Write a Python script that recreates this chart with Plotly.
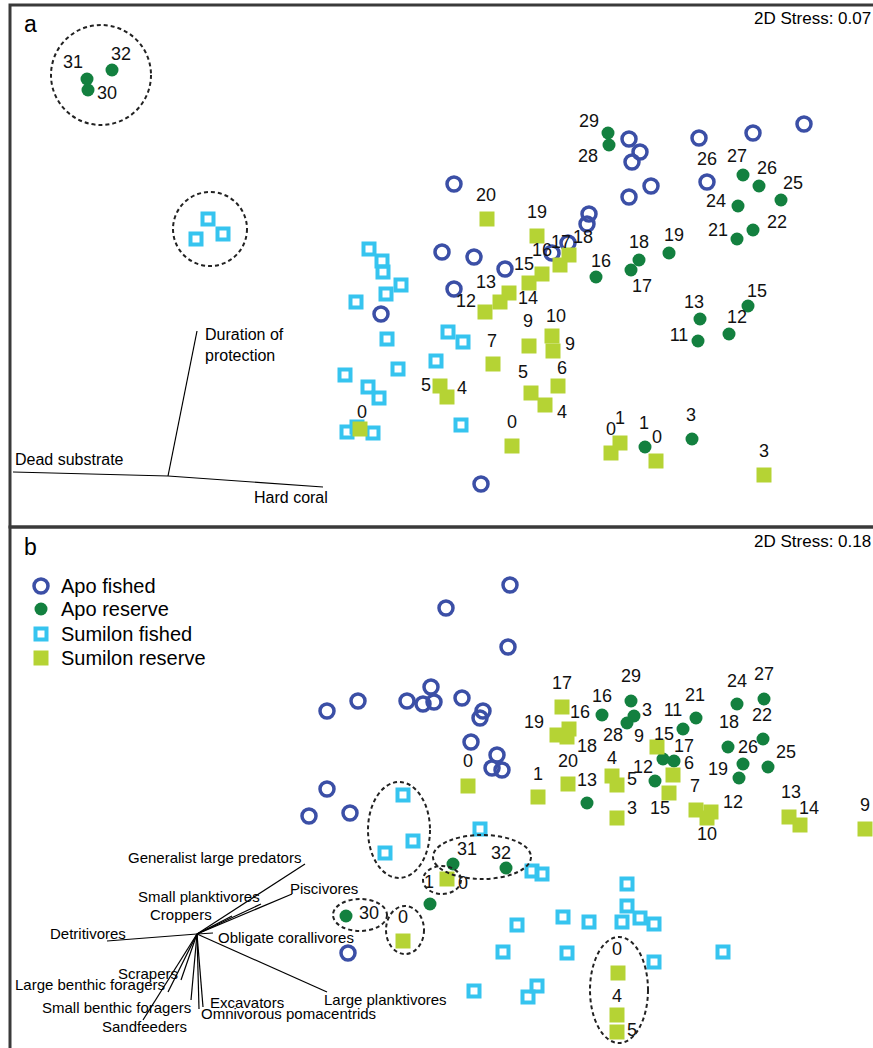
import plotly.graph_objects as go

FONT = "Liberation Sans, Arial, sans-serif"
APO_F = "#3b4fa6"
APO_R = "#13803f"
SUM_F = "#36c4ef"
SUM_R = "#b5d334"

# ---------------- Panel a : benthic NMDS (coordinates) ----------------
a_apo_fished_x = [454, 589, 587, 568, 552, 442, 474, 505, 454, 381, 629, 640, 632, 651, 629, 699, 753, 804, 707, 481]
a_apo_fished_y = [184, 214, 224, 243, 253, 252, 257, 269, 289, 314, 139, 152, 162, 186, 197, 138, 133, 124, 182, 484]

a_apo_reserve_x = [87, 88, 112, 608, 609, 743, 759, 781, 738, 753, 737, 669, 639, 631, 596, 748, 700, 729, 698, 645, 692]
a_apo_reserve_y = [79, 90, 70, 133, 145, 175, 186, 200, 206, 230, 239, 253, 260, 270, 277, 306, 319, 334, 341, 447, 439]

a_sum_fished_x = [208, 196, 223, 369, 382, 383, 401, 386, 356, 387, 448, 463, 436, 398, 345, 368, 379, 357, 347, 373, 461]
a_sum_fished_y = [219, 239, 234, 249, 261, 272, 285, 294, 302, 339, 332, 342, 361, 369, 375, 387, 398, 427, 432, 433, 425]

a_sum_reserve_x = [487, 537, 569, 560, 542, 529, 509, 500, 485, 529, 552, 553, 493, 440, 447, 531, 545, 558, 360, 512, 620, 611, 656, 764]
a_sum_reserve_y = [219, 236, 255, 265, 274, 283, 293, 302, 312, 346, 336, 351, 364, 386, 397, 393, 405, 386, 429, 446, 443, 453, 461, 475]

a_label_text = ["31", "32", "30", "29", "28", "26", "27", "26", "25", "24", "21", "22", "20", "19", "18", "17", "16",
                "15", "13", "14", "12", "18", "19", "16", "17", "13", "11", "15", "12", "9", "10", "9", "7", "5",
                "4", "5", "6", "4", "0", "0", "0", "1", "1", "0", "3", "3"]
a_label_x = [73, 121, 107, 589, 588, 707, 737, 767, 793, 716, 718, 777, 486, 537, 583, 561, 542,
             524, 486, 528, 466, 639, 674, 601, 642, 694, 679, 757, 737, 528, 556, 570, 492, 426,
             462, 523, 562, 562, 362, 512, 611, 620, 644, 657, 691, 764]
a_label_y = [63, 55, 94, 122, 157, 160, 157, 169, 184, 202, 231, 223, 196, 213, 238, 243, 251,
             265, 283, 299, 302, 243, 236, 262, 287, 303, 336, 292, 318, 322, 317, 345, 342, 386,
             389, 373, 369, 413, 413, 423, 430, 419, 424, 438, 416, 452]

a_clusters_cx = [101, 210]
a_clusters_cy = [75, 229]
a_clusters_rx = [50, 37]
a_clusters_ry = [50, 37]

a_vec_origin = (168, 476)
a_vec_end_x = [197, 13, 323]
a_vec_end_y = [331, 472, 487]
a_vec_names = ["Duration of<br>protection", "Dead substrate", "Hard coral"]
a_vec_lab_x = [203, 13, 330]
a_vec_lab_y = [345, 459, 497]
a_vec_anchor = ["left", "left", "right"]

# ---------------- Panel b : fish functional groups NMDS ----------------
b_apo_fished_x = [510, 446, 508, 327, 358, 407, 431, 423, 434, 462, 483, 480, 471, 497, 492, 502, 327, 309, 350, 348]
b_apo_fished_y = [585, 608, 647, 711, 701, 701, 687, 704, 702, 698, 711, 718, 742, 755, 768, 770, 789, 816, 813, 953]

b_apo_reserve_x = [602, 631, 634, 627, 683, 696, 663, 674, 655, 587, 728, 737, 764, 763, 743, 739, 768, 453, 506, 430, 346]
b_apo_reserve_y = [715, 701, 716, 723, 729, 718, 759, 761, 781, 803, 747, 704, 699, 739, 764, 778, 767, 864, 868, 904, 916]

b_sum_fished_x = [403, 413, 385, 480, 532, 542, 627, 627, 622, 640, 654, 517, 563, 589, 503, 567, 654, 723, 474, 537, 528]
b_sum_fished_y = [795, 841, 853, 829, 871, 874, 884, 906, 922, 918, 924, 925, 917, 922, 952, 953, 962, 952, 991, 986, 997]

b_sum_reserve_x = [562, 557, 569, 567, 657, 673, 568, 538, 612, 617, 669, 617, 696, 711, 707, 789, 800, 865, 468, 447, 403, 618, 617, 617]
b_sum_reserve_y = [707, 735, 729, 737, 747, 775, 784, 797, 776, 785, 793, 818, 810, 812, 818, 817, 825, 829, 786, 879, 941, 973, 1015, 1032]

b_label_text = ["17", "19", "16", "16", "18", "29", "3", "28", "9", "15", "11", "21", "17", "6", "12", "20", "13",
                "1", "4", "5", "7", "3", "15", "12", "10", "18", "24", "27", "22", "26", "19", "25", "13", "14",
                "9", "0", "31", "32", "1", "0", "30", "0", "0", "4", "5"]
b_label_x = [562, 534, 580, 602, 587, 631, 647, 613, 639, 664, 673, 695, 684, 689, 643, 568, 587,
             538, 612, 632, 695, 632, 660, 733, 707, 729, 737, 764, 762, 748, 718, 786, 791, 809,
             865, 468, 467, 501, 429, 463, 369, 403, 617, 617, 632]
b_label_y = [684, 723, 713, 697, 747, 677, 711, 736, 737, 735, 711, 696, 747, 764, 768, 762, 781,
             775, 759, 780, 787, 809, 809, 803, 835, 723, 682, 675, 716, 748, 770, 753, 793, 809,
             806, 762, 850, 854, 883, 884, 914, 918, 950, 997, 1031]

b_clusters_cx = [399, 482, 442, 360, 405, 619]
b_clusters_cy = [830, 857, 880, 915, 930, 990]
b_clusters_rx = [31, 49, 19, 27, 19, 29]
b_clusters_ry = [48, 22, 14, 16, 24, 53]

b_vec_origin = (197, 934)
b_vec_names = ["Generalist large predators", "Piscivores", "Small planktivores", "Croppers", "Detritivores",
               "Obligate corallivores", "Large planktivores", "Scrapers", "Large benthic foragers",
               "Small benthic foragers", "Sandfeeders", "Excavators", "Omnivorous pomacentrids"]
b_vec_end_x = [305, 292, 261, 232, 107, 213, 327, 181, 168, 191, 143, 203, 199]
b_vec_end_y = [864, 894, 904, 916, 941, 933, 992, 980, 992, 1000, 1020, 1007, 1009]
b_vec_lab_x = [303, 288, 262, 214, 48, 216, 322, 180, 13, 40, 100, 208, 199]
b_vec_lab_y = [857, 888, 896, 914, 933, 937, 999, 973, 984, 1007, 1026, 1002, 1013]
b_vec_anchor = ["right", "left", "right", "right", "left", "left", "left", "right", "left", "left", "left", "left", "left"]

legend_names = ["Apo fished", "Apo reserve", "Sumilon fished", "Sumilon reserve"]
legend_rows_y = [586, 609, 634, 658]
stress_text = ["2D Stress: 0.07", "2D Stress: 0.18"]

STYLES = {
    "Apo fished": dict(symbol="circle-open", size=14, color=APO_F, line=dict(width=3.5, color=APO_F)),
    "Apo reserve": dict(symbol="circle", size=13, color=APO_R, line=dict(width=0)),
    "Sumilon fished": dict(symbol="square-open", size=11, color=SUM_F, line=dict(width=4, color=SUM_F)),
    "Sumilon reserve": dict(symbol="square", size=15, color=SUM_R, line=dict(width=0)),
}

fig = go.Figure()

# panel frames
for (y0, y1) in [(5, 527), (527, 1060)]:
    fig.add_shape(type="rect", x0=10, x1=890, y0=y0, y1=y1, xref="x", yref="y",
                  line=dict(color="#3a3a3a", width=3), layer="below")

def add_vectors(origin, ex, ey, names, lx, ly, anchors, fsize):
    for x, y, n, tx, ty, an in zip(ex, ey, names, lx, ly, anchors):
        fig.add_trace(go.Scatter(x=[origin[0], x], y=[origin[1], y], mode="lines",
                                 line=dict(color="black", width=1.2), showlegend=False, hoverinfo="skip"))
        fig.add_annotation(x=tx, y=ty, text=n, showarrow=False, xanchor=an, yanchor="middle",
                           align="left", font=dict(family=FONT, size=fsize, color="black"))

add_vectors(a_vec_origin, a_vec_end_x, a_vec_end_y, a_vec_names, a_vec_lab_x, a_vec_lab_y, a_vec_anchor, 16)
add_vectors(b_vec_origin, b_vec_end_x, b_vec_end_y, b_vec_names, b_vec_lab_x, b_vec_lab_y, b_vec_anchor, 15)

# dashed cluster outlines
for cxs, cys, rxs, rys in [(a_clusters_cx, a_clusters_cy, a_clusters_rx, a_clusters_ry),
                           (b_clusters_cx, b_clusters_cy, b_clusters_rx, b_clusters_ry)]:
    for cx, cy, rx, ry in zip(cxs, cys, rxs, rys):
        fig.add_shape(type="circle", xref="x", yref="y", x0=cx - rx, x1=cx + rx, y0=cy - ry, y1=cy + ry,
                      line=dict(color="#222222", width=2, dash="4px,3px"))

groups = [
    ("Apo fished", a_apo_fished_x, a_apo_fished_y, b_apo_fished_x, b_apo_fished_y),
    ("Apo reserve", a_apo_reserve_x, a_apo_reserve_y, b_apo_reserve_x, b_apo_reserve_y),
    ("Sumilon fished", a_sum_fished_x, a_sum_fished_y, b_sum_fished_x, b_sum_fished_y),
    ("Sumilon reserve", a_sum_reserve_x, a_sum_reserve_y, b_sum_reserve_x, b_sum_reserve_y),
]
for name, ax, ay, bx, by in groups:
    st = STYLES[name]
    for xs, ys in [(ax, ay), (bx, by)]:
        fig.add_trace(go.Scatter(x=xs, y=ys, mode="markers", name=name, showlegend=False,
                                 marker=dict(symbol=st["symbol"], size=st["size"], color=st["color"],
                                             line=st["line"])))

# point labels
for tx, lx, ly in [(a_label_text, a_label_x, a_label_y), (b_label_text, b_label_x, b_label_y)]:
    fig.add_trace(go.Scatter(x=lx, y=ly, mode="text", text=tx, textposition="middle center",
                             textfont=dict(family=FONT, size=18, color="#111111"),
                             showlegend=False, hoverinfo="skip", cliponaxis=False))

# legend (panel b)
for name, ry in zip(legend_names, legend_rows_y):
    st = STYLES[name]
    fig.add_trace(go.Scatter(x=[41], y=[ry], mode="markers", showlegend=False, hoverinfo="skip",
                             marker=dict(symbol=st["symbol"], size=st["size"], color=st["color"],
                                         line=st["line"])))
    fig.add_annotation(x=59, y=ry, text=name, showarrow=False, xanchor="left", yanchor="middle",
                       font=dict(family=FONT, size=20, color="black"))

# panel letters and stress
for letter, ly in [("a", 24), ("b", 547)]:
    fig.add_annotation(x=22, y=ly, text=letter, showarrow=False, xanchor="left", yanchor="middle",
                       font=dict(family=FONT, size=23, color="black"))
for st_txt, sy in zip(stress_text, [18, 541]):
    fig.add_annotation(x=752, y=sy, text=st_txt, showarrow=False, xanchor="left", yanchor="middle",
                       font=dict(family=FONT, size=17, color="black"))

fig.update_layout(width=873, height=1048, margin=dict(l=0, r=0, t=0, b=0), autosize=False,
                  paper_bgcolor="white", plot_bgcolor="white", showlegend=False,
                  xaxis=dict(range=[0, 873], visible=False, fixedrange=True),
                  yaxis=dict(range=[1048, 0], visible=False, fixedrange=True))

fig.write_html("out.html", config={"displayModeBar": False},
               post_script="document.body.style.margin='0';document.body.style.overflow='hidden';")
